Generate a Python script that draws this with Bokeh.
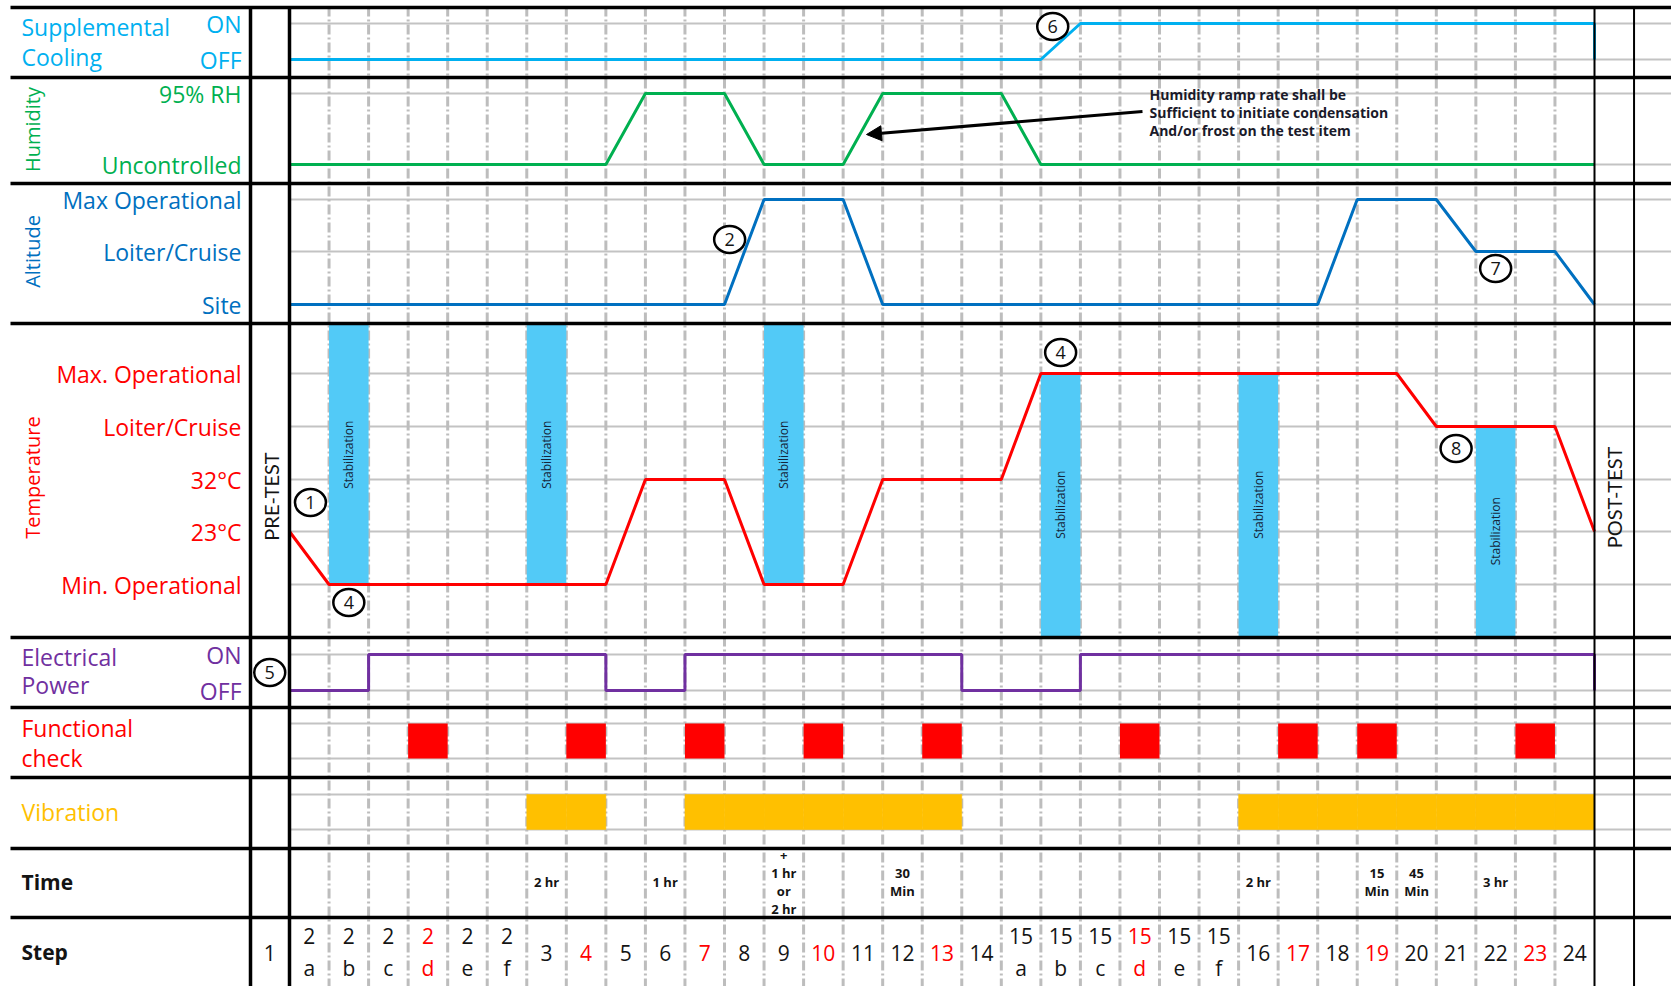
import math
from bokeh.plotting import figure
from bokeh.models import Range1d, Arrow, NormalHead, ColumnDataSource
from bokeh.embed import file_html
from bokeh.resources import INLINE
from bokeh.core.properties import value

# ---------------- data ----------------
step_numbers = ["2", "2", "2", "2", "2", "2", "3", "4", "5", "6", "7", "8", "9", "10", "11", "12",
                "13", "14", "15", "15", "15", "15", "15", "15", "16", "17", "18", "19", "20", "21",
                "22", "23", "24"]
step_letters = ["a", "b", "c", "d", "e", "f", "", "", "", "", "", "", "", "", "", "",
                "", "", "a", "b", "c", "d", "e", "f", "", "", "", "", "", "",
                "", "", ""]

# level scales (lowest first)
cooling_scale = ["OFF", "ON"]
humidity_scale = ["Uncontrolled", "95% RH"]
altitude_scale = ["Site", "Loiter/Cruise", "Max Operational"]
temperature_scale = ["Min. Operational", "23°C", "32°C", "Loiter/Cruise", "Max. Operational"]
power_scale = ["OFF", "ON"]

# levels at the 34 step boundaries (start of 2a ... end of 24)
cooling_levels = ["OFF", "OFF", "OFF", "OFF", "OFF", "OFF", "OFF", "OFF", "OFF", "OFF",
                  "OFF", "OFF", "OFF", "OFF", "OFF", "OFF", "OFF", "OFF", "OFF", "OFF",
                  "ON", "ON", "ON", "ON", "ON", "ON", "ON", "ON", "ON", "ON",
                  "ON", "ON", "ON", "ON"]
cooling_post = "OFF"
humidity_levels = ["Uncontrolled", "Uncontrolled", "Uncontrolled", "Uncontrolled", "Uncontrolled",
                   "Uncontrolled", "Uncontrolled", "Uncontrolled", "Uncontrolled", "95% RH",
                   "95% RH", "95% RH", "Uncontrolled", "Uncontrolled", "Uncontrolled",
                   "95% RH", "95% RH", "95% RH", "95% RH", "Uncontrolled",
                   "Uncontrolled", "Uncontrolled", "Uncontrolled", "Uncontrolled", "Uncontrolled",
                   "Uncontrolled", "Uncontrolled", "Uncontrolled", "Uncontrolled", "Uncontrolled",
                   "Uncontrolled", "Uncontrolled", "Uncontrolled", "Uncontrolled"]
altitude_levels = ["Site", "Site", "Site", "Site", "Site", "Site", "Site", "Site", "Site", "Site",
                   "Site", "Site", "Max Operational", "Max Operational", "Max Operational",
                   "Site", "Site", "Site", "Site", "Site", "Site", "Site", "Site", "Site", "Site",
                   "Site", "Site", "Max Operational", "Max Operational", "Max Operational",
                   "Loiter/Cruise", "Loiter/Cruise", "Loiter/Cruise", "Site"]
temperature_levels = ["23°C", "Min. Operational", "Min. Operational", "Min. Operational",
                      "Min. Operational", "Min. Operational", "Min. Operational", "Min. Operational",
                      "Min. Operational", "32°C", "32°C", "32°C", "Min. Operational",
                      "Min. Operational", "Min. Operational", "32°C", "32°C", "32°C", "32°C",
                      "Max. Operational", "Max. Operational", "Max. Operational", "Max. Operational",
                      "Max. Operational", "Max. Operational", "Max. Operational", "Max. Operational",
                      "Max. Operational", "Max. Operational", "Loiter/Cruise", "Loiter/Cruise",
                      "Loiter/Cruise", "Loiter/Cruise", "23°C"]
# electrical power state during each step (33 steps)
power_states = ["OFF", "OFF", "ON", "ON", "ON", "ON", "ON", "ON", "OFF", "OFF",
                "ON", "ON", "ON", "ON", "ON", "ON", "ON", "OFF", "OFF", "OFF",
                "ON", "ON", "ON", "ON", "ON", "ON", "ON", "ON", "ON", "ON",
                "ON", "ON", "ON"]
power_post = "OFF"

stabilization_steps = ["2b", "3", "9", "15b", "16", "22"]
functional_steps = ["2d", "4", "7", "10", "13", "15d", "17", "19", "23"]
vibration_steps = ["3", "4", "7", "8", "9", "10", "11", "12", "13",
                   "16", "17", "18", "19", "20", "21", "22", "23", "24"]
time_steps = ["3", "6", "9", "12", "16", "19", "20", "22"]
time_texts = ["2 hr", "1 hr", "+\n1 hr\nor\n2 hr", "30\nMin", "2 hr", "15\nMin", "45\nMin", "3 hr"]
note_text = "Humidity ramp rate shall be\nSufficient to initiate condensation\nAnd/or frost on the test item"

# ---------------- layout (reference pixels) ----------------
W, H = 1671, 986
X0 = 289.0
COL_W = 1305.0 / 33
N = len(step_numbers)


def cx(px):
    return (px - X0) / COL_W


LEVEL_Y = {
    "cooling": [59, 23],
    "humidity": [164, 93],
    "altitude": [304, 251, 199],
    "temperature": [584, 531, 479, 426, 373],
    "power": [690, 654],
}
TEMP_TOP, TEMP_BOTTOM = 324.5, 635.5
FUNC_BAND = (723, 758)
VIB_BAND = (794, 829)
ROW_LINES = [7, 77, 183, 323, 637, 707, 777, 848, 917]
TOP, BOTTOM = 6, 986

BLUE_L = "#00B0F0"
GREEN = "#00B050"
BLUE = "#0070C0"
RED = "#FF0000"
PURPLE = "#7030A0"
ORANGE = "#FFC000"
STAB = "#52CAF7"
GRID = "#C3C3C3"
FONT = "Open Sans"
DARK = "#141414"

steps = [n + l for n, l in zip(step_numbers, step_letters)]
sidx = {s: i for i, s in enumerate(steps)}


def ys(row, scale, levels):
    return [LEVEL_Y[row][scale.index(l)] for l in levels]


p = figure(width=W, height=H, x_range=Range1d(cx(0), cx(W)), y_range=Range1d(H, 0),
           output_backend="svg", toolbar_location=None, min_border=0,
           x_axis_location=None, y_axis_location=None)
p.grid.visible = False
p.outline_line_color = None
p.background_fill_color = "white"
p.border_fill_color = "white"

XR = cx(W)

# gray horizontal grid lines
gy = []
for row in ["cooling", "humidity", "altitude", "temperature", "power"]:
    gy += LEVEL_Y[row]
gy += list(FUNC_BAND) + list(VIB_BAND)
p.segment(x0=[0] * len(gy), x1=[XR] * len(gy), y0=gy, y1=gy, line_color=GRID, line_width=2)

# dashed vertical column boundaries
kb = list(range(1, N))
p.segment(x0=kb, x1=kb, y0=[TOP] * len(kb), y1=[BOTTOM] * len(kb), line_color="#BDBDBD", line_width=3,
          line_dash="10 3 2 3")

# stabilization bars
bx, btop, bbot, bcy = [], [], [], []
for s in stabilization_steps:
    i = sidx[s]
    lvl = temperature_levels[i]
    yl = LEVEL_Y["temperature"][temperature_scale.index(lvl)]
    if temperature_scale.index(lvl) == 0:
        top, bot = TEMP_TOP, yl
    else:
        top, bot = yl, TEMP_BOTTOM
    bx.append(i)
    btop.append(top)
    bbot.append(bot)
    bcy.append((top + bot) / 2)
p.quad(left=bx, right=[b + 1 for b in bx], top=btop, bottom=bbot, fill_color=STAB, line_color=None)
p.text(x=[b + 0.5 for b in bx], y=bcy, text=["Stabilization"] * len(bx), angle=math.pi / 2,
       text_align="center", text_baseline="middle", text_font=value(FONT),
       text_font_size=value("12px"), text_color="#15253a")

# functional check & vibration
fx = [sidx[s] for s in functional_steps]
p.quad(left=fx, right=[f + 1 for f in fx], top=[FUNC_BAND[0]] * len(fx), bottom=[FUNC_BAND[1]] * len(fx),
       fill_color=RED, line_color=None)
vx = [sidx[s] for s in vibration_steps]
p.quad(left=vx, right=[v + 1 for v in vx], top=[VIB_BAND[0]] * len(vx), bottom=[VIB_BAND[1]] * len(vx),
       fill_color=ORANGE, line_color=ORANGE, line_width=0.5)

# series lines
bnd = list(range(N + 1))
p.line(bnd + [N], ys("cooling", cooling_scale, cooling_levels + [cooling_post]), line_color=BLUE_L, line_width=3)
p.line(bnd, ys("humidity", humidity_scale, humidity_levels), line_color=GREEN, line_width=3)
p.line(bnd, ys("altitude", altitude_scale, altitude_levels), line_color=BLUE, line_width=3)
p.line(bnd, ys("temperature", temperature_scale, temperature_levels), line_color=RED, line_width=3)
px_, py_ = [], []
for i, st in enumerate(power_states):
    yv = LEVEL_Y["power"][power_scale.index(st)]
    px_ += [i, i + 1]
    py_ += [yv, yv]
px_.append(N)
py_.append(LEVEL_Y["power"][power_scale.index(power_post)])
p.line(px_, py_, line_color=PURPLE, line_width=3)

# thick frame lines
p.segment(x0=[cx(10)] * len(ROW_LINES), x1=[XR] * len(ROW_LINES), y0=ROW_LINES, y1=ROW_LINES,
          line_color="black", line_width=3.5)
p.segment(x0=[cx(250), cx(289)], x1=[cx(250), cx(289)], y0=[TOP, TOP], y1=[BOTTOM, BOTTOM],
          line_color="black", line_width=3.5)
p.segment(x0=[N, N + 1], x1=[N, N + 1], y0=[TOP, TOP], y1=[BOTTOM, BOTTOM], line_color="black", line_width=2)

# annotation arrow and note
p.add_layout(Arrow(end=NormalHead(size=15, fill_color="black", line_color="black"),
                   x_start=cx(1142), y_start=111, x_end=cx(866), y_end=134,
                   line_color="black", line_width=3))
p.text(x=[cx(1149)], y=[112], text=[note_text], text_align="left", text_baseline="middle",
       text_font=value(FONT), text_font_size=value("14px"), text_font_style="bold",
       text_color="#1a1a2a", text_line_height=0.95)

# numbered callouts
callouts = [("1", 0.53, 502), ("4", 1.5, 602), ("2", 11.13, 239), ("4", 19.5, 352),
            ("5", -0.5, 672), ("6", 19.3, 26), ("7", 30.5, 268), ("8", 29.5, 448)]
cl = ColumnDataSource(dict(x=[c[1] for c in callouts], y=[c[2] for c in callouts], t=[c[0] for c in callouts]))
p.ellipse(x="x", y="y", width=31, height=27, width_units="screen", height_units="screen", source=cl,
          fill_color="white", line_color="black", line_width=2.5)
p.text(x="x", y="y", text="t", source=cl, text_align="center", text_baseline="middle",
       text_font=value(FONT), text_font_size=value("18px"), text_color=DARK)


# left side labels
def txt(x, y, t, color, size="23px", align="left", angle=0.0, style="normal", font=FONT):
    p.text(x=[x], y=[y], text=[t], text_color=color, text_font=value(font), text_font_size=value(size),
           text_align=align, text_baseline="middle", angle=angle, text_font_style=style)


LX = cx(21)
RX = cx(241)
txt(LX, 26, "Supplemental", BLUE_L)
txt(LX, 56, "Cooling", BLUE_L)
for row, scale, color in [("cooling", cooling_scale, BLUE_L), ("humidity", humidity_scale, GREEN),
                          ("altitude", altitude_scale, BLUE), ("temperature", temperature_scale, RED),
                          ("power", power_scale, PURPLE)]:
    for k, name in enumerate(scale):
        txt(RX, LEVEL_Y[row][k], name, color, align="right")
txt(cx(32), 129, "Humidity", GREEN, size="20px", align="center", angle=math.pi / 2)
txt(cx(32), 251, "Altitude", BLUE, size="20px", align="center", angle=math.pi / 2)
txt(cx(32), 477, "Temperature", RED, size="20px", align="center", angle=math.pi / 2)
txt(cx(270), 496, "PRE-TEST", DARK, size="20px", align="center", angle=math.pi / 2, font="Lato")
txt(cx(1613), 497, "POST-TEST", DARK, size="20px", align="center", angle=math.pi / 2, font="Lato")
txt(LX, 656, "Electrical", PURPLE)
txt(LX, 684, "Power", PURPLE)
txt(LX, 727, "Functional", RED)
txt(LX, 757, "check", RED)
txt(LX, 811, "Vibration", ORANGE)
txt(LX, 881, "Time", DARK, size="21px", style="bold")
txt(LX, 951, "Step", DARK, size="21px", style="bold")
txt(-0.5, 952, "1", DARK, size="21px", align="center")

# time labels
tx = [sidx[s] + 0.5 for s in time_steps]
p.text(x=tx, y=[881] * len(tx), text=time_texts, text_align="center", text_baseline="middle",
       text_font=value(FONT), text_font_size=value("13px"), text_font_style="bold",
       text_color=DARK, text_line_height=1.0)

# step labels
sx, sy, st, sc = [], [], [], []
for i, (n, l) in enumerate(zip(step_numbers, step_letters)):
    c = RED if steps[i] in functional_steps else DARK
    if l:
        sx += [i + 0.5, i + 0.5]
        sy += [935, 967]
        st += [n, l]
        sc += [c, c]
    else:
        sx.append(i + 0.5)
        sy.append(952)
        st.append(n)
        sc.append(c)
p.text(x=sx, y=sy, text=st, text_color=sc, text_align="center", text_baseline="middle",
       text_font=value(FONT), text_font_size=value("21px"))

open("out.html", "w").write(file_html(p, INLINE))
